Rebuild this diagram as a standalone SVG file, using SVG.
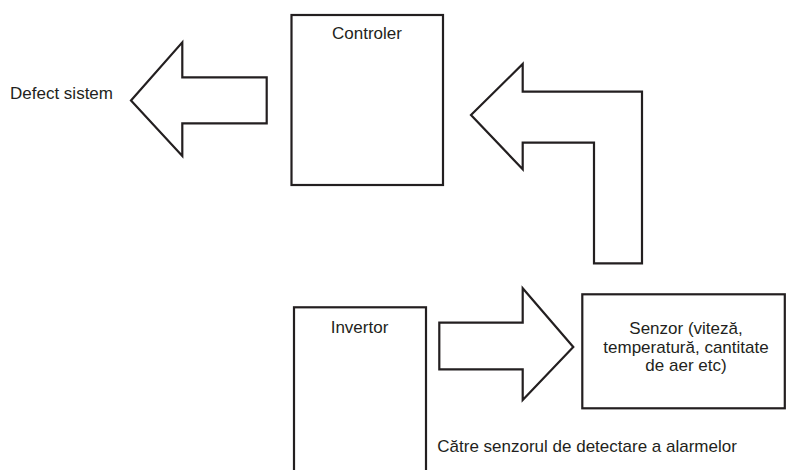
<svg xmlns="http://www.w3.org/2000/svg" width="788" height="470" viewBox="0 0 788 470">
<style>
.box{fill:#fff;stroke:#231f20;stroke-width:2.2}
.arr{fill:#fff;stroke:#231f20;stroke-width:2.2;stroke-linejoin:miter}
text{font-family:"Liberation Sans",Arial,sans-serif;font-size:17px;fill:#231f20}
.c{text-anchor:middle}
</style>
<rect width="788" height="470" fill="#fff"/>
<g id="connectors">
<polygon class="arr" points="131,100.5 182.3,42.3 182.3,77.3 266.7,77.3 266.7,123.3 182.3,123.3 182.3,156"/>
<polygon class="arr" points="471,115 522.7,64 522.7,91.7 642,91.7 642,263.3 594,263.3 594,142.7 522.7,142.7 522.7,169.3"/>
<polygon class="arr" points="439.3,322.7 522.7,322.7 522.7,288.3 573.3,347 522.7,400 522.7,369.3 439.3,369.3"/>
</g>
<g id="controler">
<rect class="box" x="291.5" y="15" width="151.5" height="170"/>
<text class="c" x="367" y="39.3">Controler</text>
</g>
<g id="invertor">
<rect class="box" x="294" y="307.3" width="132" height="180"/>
<text class="c" x="359.5" y="333.3">Invertor</text>
</g>
<g id="senzor">
<rect class="box" x="582.3" y="294.3" width="202.5" height="114"/>
<text class="c" x="686" y="334.3">Senzor (viteză,</text>
<text class="c" x="686" y="352.5">temperatură, cantitate</text>
<text class="c" x="686" y="370.7">de aer etc)</text>
</g>
<g id="defect-sistem">
<text x="10" y="99">Defect sistem</text>
</g>
<g id="catre-senzorul">
<text x="437.3" y="451.5">Către senzorul de detectare a alarmelor</text>
</g>
</svg>
